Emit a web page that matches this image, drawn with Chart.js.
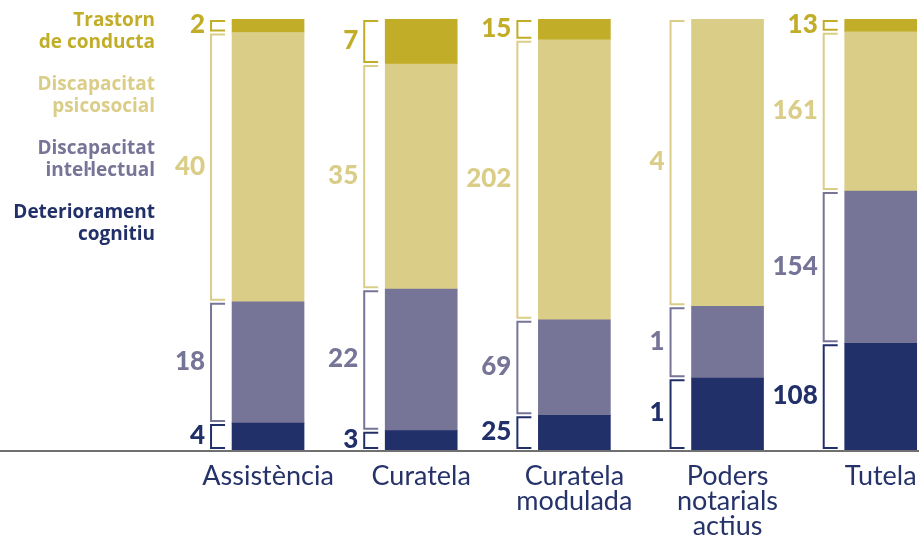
<!DOCTYPE html>
<html lang="ca">
  <head>
    <meta charset="UTF-8" />
    <title>Tipus de mesura per diagnòstic</title>
    <script src="https://cdn.jsdelivr.net/npm/chart.js"></script>
    <style>
      html, body { margin: 0; padding: 0; background: #fff; }
      #wrap { width: 919px; height: 537px; position: relative; }
    </style>
  </head>
  <body>
    <div id="wrap"><canvas id="chart"></canvas></div>

    <script>
      const categories = [
        ["Assistència"],
        ["Curatela"],
        ["Curatela", "modulada"],
        ["Poders", "notarials", "actius"],
        ["Tutela"],
      ];

      // series, bottom to top
      const deteriorament = [4, 3, 25, 1, 108];
      const intelectual = [18, 22, 69, 1, 154];
      const psicosocial = [40, 35, 202, 4, 161];
      const trastorn = [2, 7, 15, 0, 13];

      const seriesNames = [
        ["Deteriorament", "cognitiu"],
        ["Discapacitat", "intel·lectual"],
        ["Discapacitat", "psicosocial"],
        ["Trastorn", "de conducta"],
      ];
      const colors = ["#22306a", "#777597", "#dacd88", "#c2ad28"];

      const allSeries = [deteriorament, intelectual, psicosocial, trastorn];
      const totals = categories.map((c, i) =>
        allSeries.reduce((s, arr) => s + arr[i], 0)
      );

      const datasets = allSeries.map((arr, k) => ({
        label: seriesNames[k].join(" "),
        data: arr.map((v, i) => ({ x: i, y: (v / totals[i]) * 100, raw: v })),
        backgroundColor: colors[k],
        barThickness: 72,
        borderWidth: 0,
      }));

      const decorations = {
        id: "decorations",
        afterDatasetsDraw(chart) {
          const ctx = chart.ctx;
          const area = chart.chartArea;
          const xs = chart.scales.x;

          // baseline across the whole width
          ctx.save();
          ctx.strokeStyle = "#707070";
          ctx.lineWidth = 2;
          ctx.beginPath();
          ctx.moveTo(0, area.bottom + 1);
          ctx.lineTo(chart.width, area.bottom + 1);
          ctx.stroke();

          // brackets and numbers
          chart.data.datasets.forEach((ds, k) => {
            const meta = chart.getDatasetMeta(k);
            meta.data.forEach((bar, i) => {
              const v = ds.data[i].raw;
              if (!v) return;
              const left = bar.x - bar.width / 2;
              const bx = left - 21;
              const ex = left - 7;
              const top = Math.min(bar.y, bar.base) + 2;
              const bottom = Math.max(bar.y, bar.base) - 2;
              ctx.strokeStyle = colors[k];
              ctx.lineWidth = 2;
              ctx.beginPath();
              ctx.moveTo(ex, top);
              ctx.lineTo(bx, top);
              ctx.lineTo(bx, bottom);
              ctx.lineTo(ex, bottom);
              ctx.stroke();

              ctx.fillStyle = colors[k];
              ctx.font = "900 26px Lato";
              ctx.textAlign = "right";
              ctx.textBaseline = "middle";
              ctx.fillText(String(v), bx - 6, (top + bottom) / 2 - 1);
            });
          });

          // category labels
          ctx.fillStyle = "#26336a";
          ctx.font = "27px Lato";
          ctx.textAlign = "center";
          ctx.textBaseline = "alphabetic";
          categories.forEach((lines, i) => {
            const x = xs.getPixelForValue(i);
            lines.forEach((t, j) => {
              ctx.fillText(t, x, area.bottom + 35 + j * 25);
            });
          });

          // legend, top to bottom
          ctx.font = "bold 19px 'Open Sans'";
          ctx.textAlign = "right";
          ctx.textBaseline = "middle";
          for (let k = 3; k >= 0; k--) {
            const row = 3 - k;
            ctx.fillStyle = colors[k];
            seriesNames[k].forEach((t, j) => {
              ctx.fillText(t, 155, 21 + row * 64 + j * 22);
            });
          }
          ctx.restore();
        },
      };

      new Chart(document.getElementById("chart"), {
        type: "bar",
        data: { datasets },
        options: {
          responsive: true,
          maintainAspectRatio: false,
          animation: false,
          layout: { padding: { top: 19, bottom: 87, left: 0, right: 0 } },
          plugins: {
            legend: { display: false },
            tooltip: { enabled: false },
          },
          scales: {
            x: {
              type: "linear",
              stacked: true,
              offset: false,
              min: -1.75,
              max: 4.25,
              display: false,
            },
            y: {
              stacked: true,
              min: 0,
              max: 100,
              display: false,
            },
          },
        },
        plugins: [decorations],
      });
    </script>
  </body>
</html>
